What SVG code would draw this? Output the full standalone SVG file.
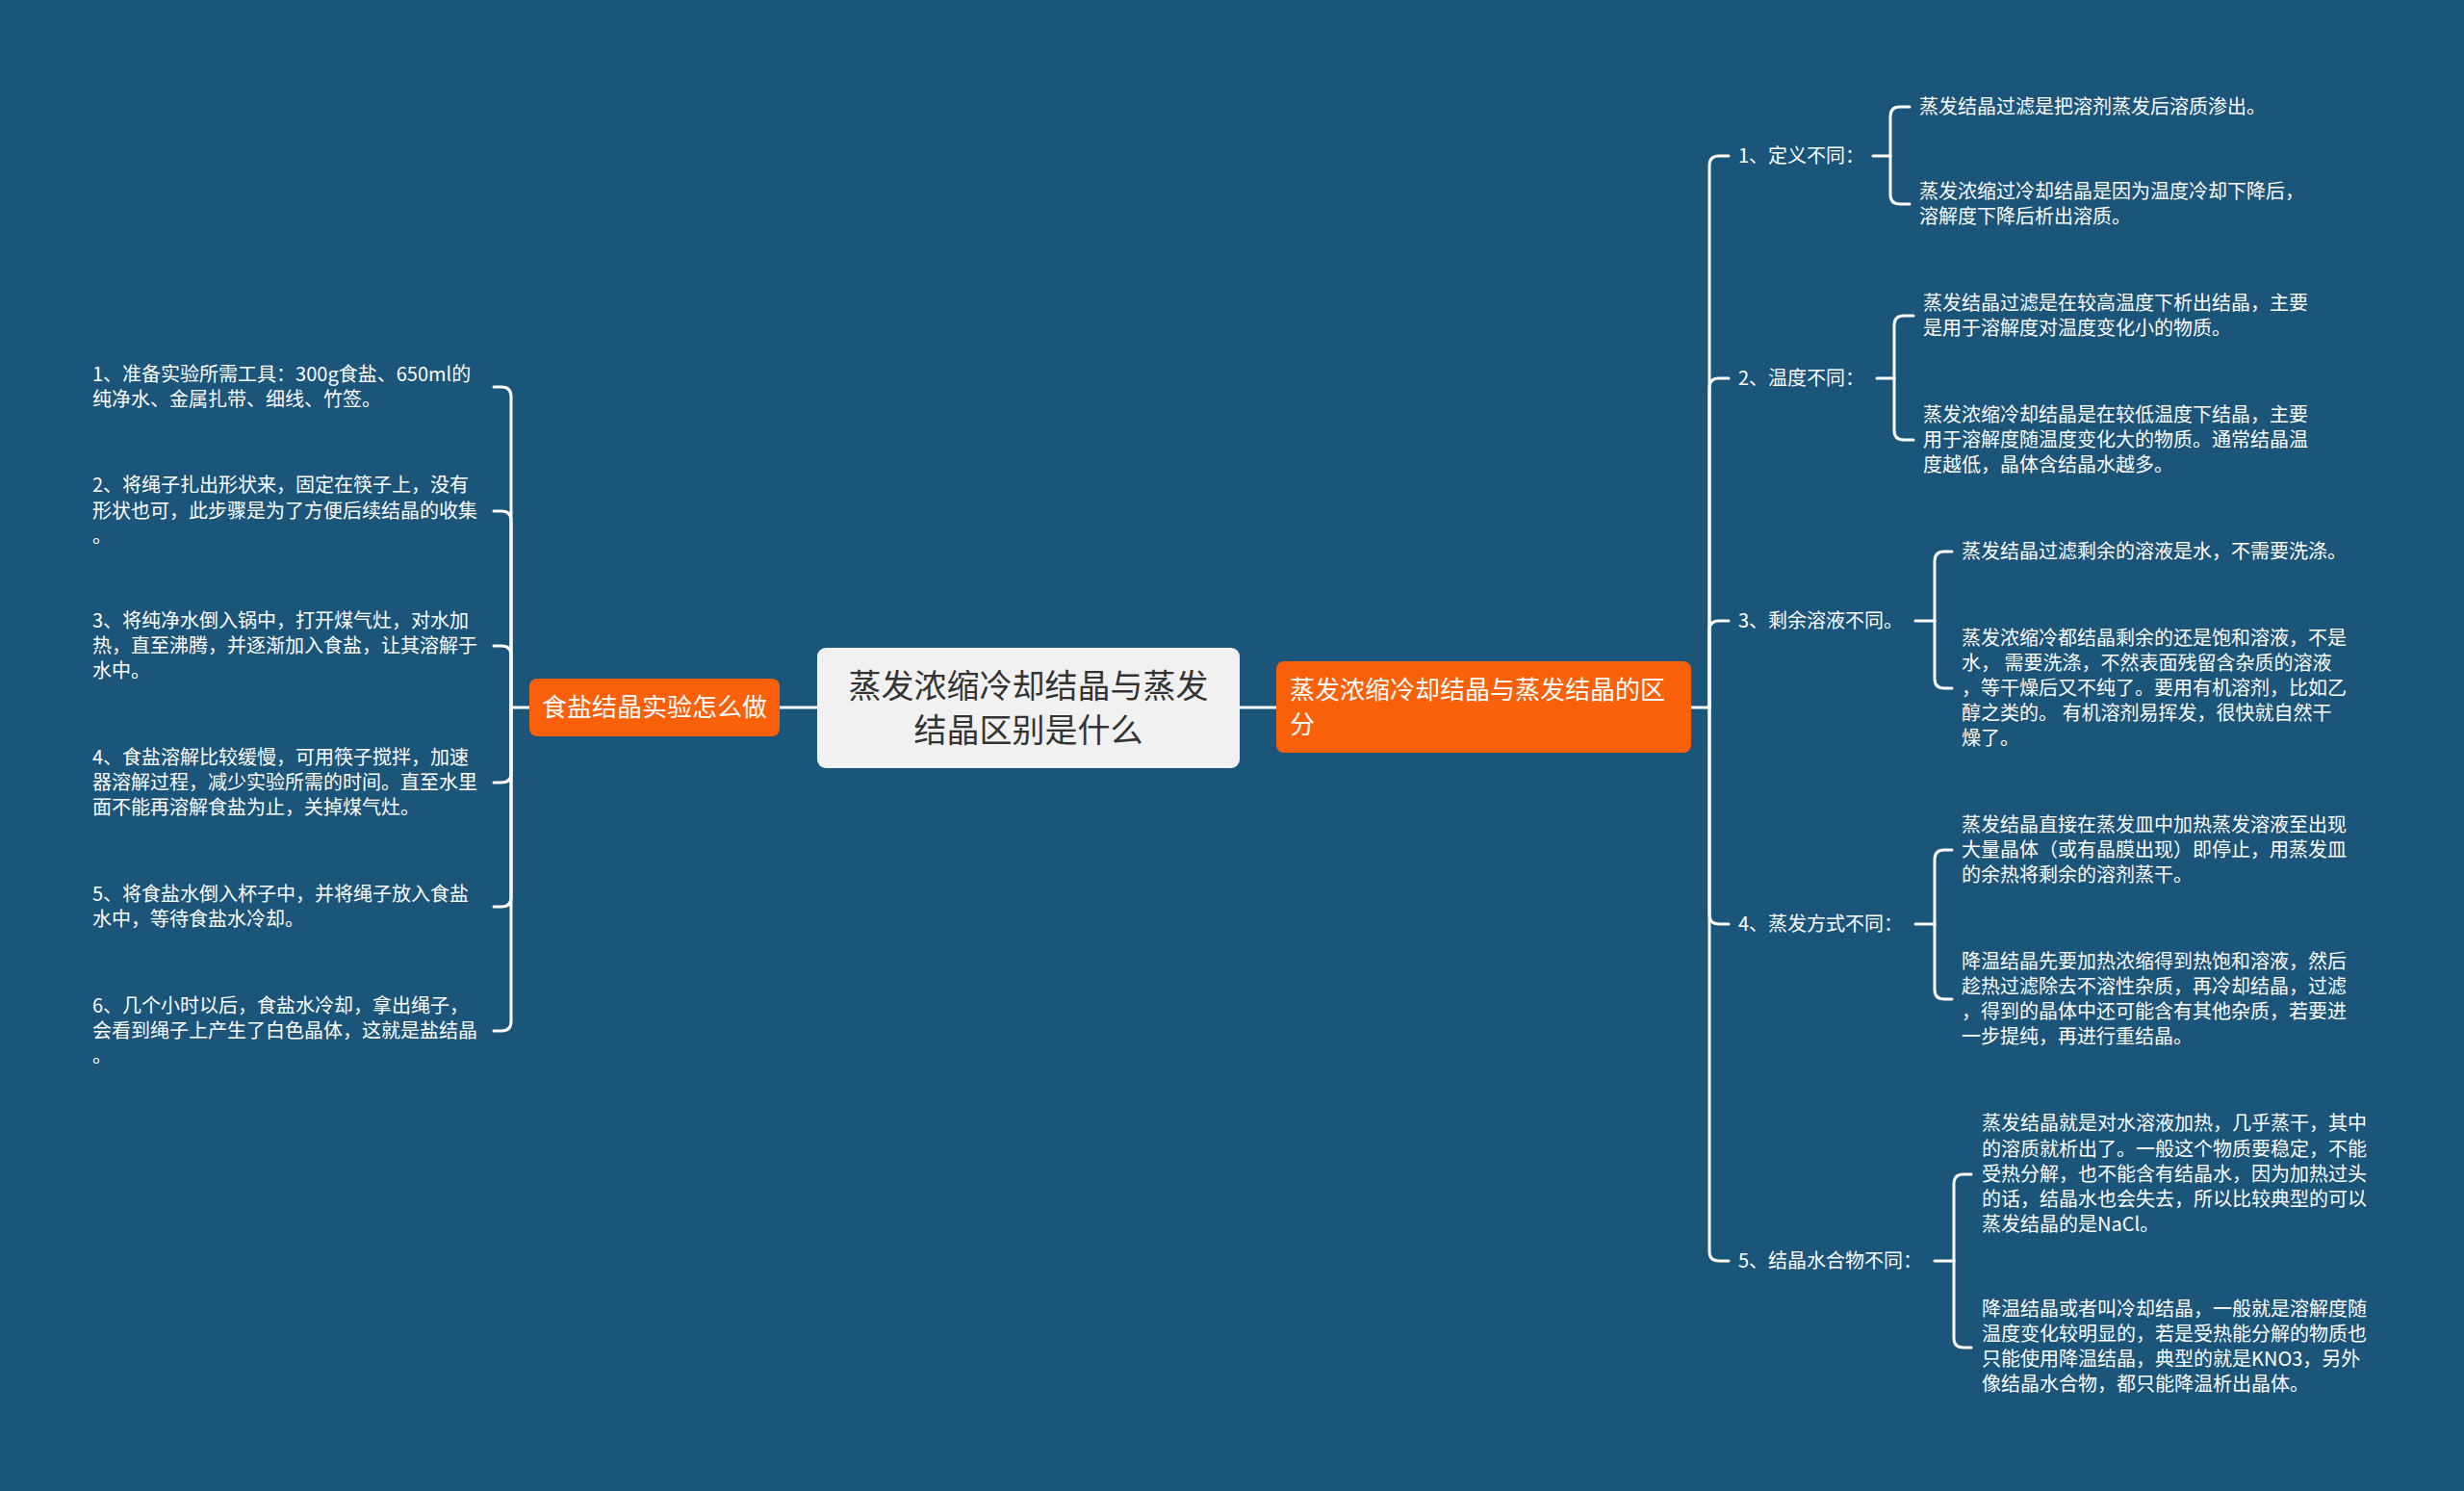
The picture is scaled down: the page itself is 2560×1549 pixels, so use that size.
<svg xmlns="http://www.w3.org/2000/svg" width="2560" height="1549" viewBox="0 0 2560 1549">
<style>
text{font-family:"Noto Sans CJK SC","Noto Sans",sans-serif;}
.t{font-size:20px;fill:#ffffff;}
.lab{font-size:20px;fill:#ffffff;}
.org{fill:#fa5f0a;}
.ot{font-size:26px;fill:#ffffff;}
.ct{font-size:34px;fill:#333333;}
.c{fill:none;stroke:#ffffff;stroke-width:3;stroke-linecap:round;}
</style>
<rect x="0" y="0" width="2560" height="1549" fill="#1b557a"/>
<g id="connectors">
<path class="c" d="M810 735 H849"/>
<path class="c" d="M1288 735 H1326"/>
<path class="c" d="M550 735 H531"/>
<path class="c" d="M531 735 V412 Q531 402 521 402 H513"/>
<path class="c" d="M531 735 V541 Q531 531 521 531 H513"/>
<path class="c" d="M531 735 V681 Q531 671 521 671 H513"/>
<path class="c" d="M531 735 V803 Q531 813 521 813 H513"/>
<path class="c" d="M531 735 V932 Q531 942 521 942 H513"/>
<path class="c" d="M531 735 V1061 Q531 1071 521 1071 H513"/>
<path class="c" d="M1757 735 H1776"/>
<path class="c" d="M1776 735 V172 Q1776 162 1786 162 H1796"/>
<path class="c" d="M1776 735 V403 Q1776 393 1786 393 H1796"/>
<path class="c" d="M1776 735 V655 Q1776 645 1786 645 H1796"/>
<path class="c" d="M1776 735 V950 Q1776 960 1786 960 H1796"/>
<path class="c" d="M1776 735 V1300 Q1776 1310 1786 1310 H1796"/>
<path class="c" d="M1946 162 H1964"/>
<path class="c" d="M1964 162 V121 Q1964 111 1974 111 H1984"/>
<path class="c" d="M1964 162 V202 Q1964 212 1974 212 H1984"/>
<path class="c" d="M1950 393 H1968"/>
<path class="c" d="M1968 393 V338 Q1968 328 1978 328 H1988"/>
<path class="c" d="M1968 393 V447 Q1968 457 1978 457 H1988"/>
<path class="c" d="M1990 645 H2010"/>
<path class="c" d="M2010 645 V583 Q2010 573 2020 573 H2028"/>
<path class="c" d="M2010 645 V705 Q2010 715 2020 715 H2028"/>
<path class="c" d="M1990 960 H2010"/>
<path class="c" d="M2010 960 V893 Q2010 883 2020 883 H2028"/>
<path class="c" d="M2010 960 V1028 Q2010 1038 2020 1038 H2028"/>
<path class="c" d="M2010 1310 H2030"/>
<path class="c" d="M2030 1310 V1230 Q2030 1220 2040 1220 H2048"/>
<path class="c" d="M2030 1310 V1390 Q2030 1400 2040 1400 H2048"/>
</g>
<g id="center">
<rect x="849" y="673" width="439" height="125" rx="9" fill="#f1f1f1"/>
<text class="ct" x="1068.5" y="725" text-anchor="middle">蒸发浓缩冷却结晶与蒸发</text>
<text class="ct" x="1068.5" y="771" text-anchor="middle">结晶区别是什么</text>
</g>
<g id="left-main">
<rect class="org" x="550" y="705" width="260" height="60" rx="8"/>
<text class="ot" x="680" y="744" text-anchor="middle">食盐结晶实验怎么做</text>
</g>
<g id="right-main">
<rect class="org" x="1326" y="687" width="431" height="95" rx="8"/>
<text class="ot" x="1340" y="726">蒸发浓缩冷却结晶与蒸发结晶的区</text>
<text class="ot" x="1340" y="762">分</text>
</g>
<g id="left-1"><text class="t" x="96" y="396">1、准备实验所需工具：300g食盐、650ml的</text><text class="t" x="96" y="422">纯净水、金属扎带、细线、竹签。</text></g>
<g id="left-2"><text class="t" x="96" y="511">2、将绳子扎出形状来，固定在筷子上，没有</text><text class="t" x="96" y="538">形状也可，此步骤是为了方便后续结晶的收集</text><text class="t" x="96" y="564">。</text></g>
<g id="left-3"><text class="t" x="96" y="652">3、将纯净水倒入锅中，打开煤气灶，对水加</text><text class="t" x="96" y="678">热，直至沸腾，并逐渐加入食盐，让其溶解于</text><text class="t" x="96" y="704">水中。</text></g>
<g id="left-4"><text class="t" x="96" y="794">4、食盐溶解比较缓慢，可用筷子搅拌，加速</text><text class="t" x="96" y="820">器溶解过程，减少实验所需的时间。直至水里</text><text class="t" x="96" y="846">面不能再溶解食盐为止，关掉煤气灶。</text></g>
<g id="left-5"><text class="t" x="96" y="936">5、将食盐水倒入杯子中，并将绳子放入食盐</text><text class="t" x="96" y="962">水中，等待食盐水冷却。</text></g>
<g id="left-6"><text class="t" x="96" y="1052">6、几个小时以后，食盐水冷却，拿出绳子，</text><text class="t" x="96" y="1078">会看到绳子上产生了白色晶体，这就是盐结晶</text><text class="t" x="96" y="1104">。</text></g>
<g id="r1"><text class="lab" x="1806" y="169">1、定义不同：</text></g>
<g id="r2"><text class="lab" x="1806" y="400">2、温度不同：</text></g>
<g id="r3"><text class="lab" x="1806" y="652">3、剩余溶液不同。</text></g>
<g id="r4"><text class="lab" x="1806" y="967">4、蒸发方式不同：</text></g>
<g id="r5"><text class="lab" x="1806" y="1317">5、结晶水合物不同：</text></g>
<g id="r1a"><text class="t" x="1994" y="118">蒸发结晶过滤是把溶剂蒸发后溶质渗出。</text></g>
<g id="r1b"><text class="t" x="1994" y="206">蒸发浓缩过冷却结晶是因为温度冷却下降后，</text><text class="t" x="1994" y="232">溶解度下降后析出溶质。</text></g>
<g id="r2a"><text class="t" x="1998" y="322">蒸发结晶过滤是在较高温度下析出结晶，主要</text><text class="t" x="1998" y="348">是用于溶解度对温度变化小的物质。</text></g>
<g id="r2b"><text class="t" x="1998" y="438">蒸发浓缩冷却结晶是在较低温度下结晶，主要</text><text class="t" x="1998" y="464">用于溶解度随温度变化大的物质。通常结晶温</text><text class="t" x="1998" y="490">度越低，晶体含结晶水越多。</text></g>
<g id="r3a"><text class="t" x="2038" y="580">蒸发结晶过滤剩余的溶液是水，不需要洗涤。</text></g>
<g id="r3b"><text class="t" x="2038" y="670">蒸发浓缩冷都结晶剩余的还是饱和溶液，不是</text><text class="t" x="2038" y="696">水， 需要洗涤，不然表面残留含杂质的溶液</text><text class="t" x="2038" y="722">，等干燥后又不纯了。要用有机溶剂，比如乙</text><text class="t" x="2038" y="748">醇之类的。 有机溶剂易挥发，很快就自然干</text><text class="t" x="2038" y="774">燥了。</text></g>
<g id="r4a"><text class="t" x="2038" y="864">蒸发结晶直接在蒸发皿中加热蒸发溶液至出现</text><text class="t" x="2038" y="890">大量晶体（或有晶膜出现）即停止，用蒸发皿</text><text class="t" x="2038" y="916">的余热将剩余的溶剂蒸干。</text></g>
<g id="r4b"><text class="t" x="2038" y="1006">降温结晶先要加热浓缩得到热饱和溶液，然后</text><text class="t" x="2038" y="1032">趁热过滤除去不溶性杂质，再冷却结晶，过滤</text><text class="t" x="2038" y="1058">，得到的晶体中还可能含有其他杂质，若要进</text><text class="t" x="2038" y="1084">一步提纯，再进行重结晶。</text></g>
<g id="r5a"><text class="t" x="2059" y="1174">蒸发结晶就是对水溶液加热，几乎蒸干，其中</text><text class="t" x="2059" y="1201">的溶质就析出了。一般这个物质要稳定，不能</text><text class="t" x="2059" y="1227">受热分解，也不能含有结晶水，因为加热过头</text><text class="t" x="2059" y="1253">的话，结晶水也会失去，所以比较典型的可以</text><text class="t" x="2059" y="1279">蒸发结晶的是NaCl。</text></g>
<g id="r5b"><text class="t" x="2059" y="1367">降温结晶或者叫冷却结晶，一般就是溶解度随</text><text class="t" x="2059" y="1393">温度变化较明显的，若是受热能分解的物质也</text><text class="t" x="2059" y="1419">只能使用降温结晶，典型的就是KNO3，另外</text><text class="t" x="2059" y="1445">像结晶水合物，都只能降温析出晶体。</text></g>
</svg>
